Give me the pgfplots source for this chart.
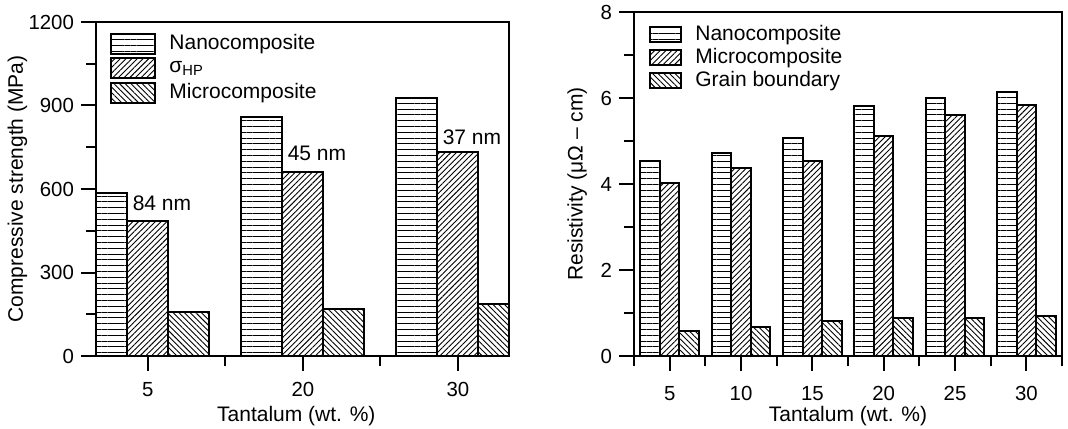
\documentclass[border=0pt]{standalone}
\usepackage{pgfplots}
\pgfplotsset{compat=1.18}
\usetikzlibrary{patterns.meta}
\usepackage{fontspec}
\setmainfont{Liberation Sans}

\tikzset{
  hlines/.style={draw=black, line width=1pt, pattern={Lines[angle=0,distance=2.9pt,line width=0.45pt]}},
  nelines/.style={draw=black, line width=1pt, pattern={Lines[angle=45,distance=2pt,line width=0.45pt]}},
  nwlines/.style={draw=black, line width=1pt, pattern={Lines[angle=-45,distance=2pt,line width=0.45pt]}},
}
\pgfplotsset{
  common/.style={
    scale only axis,
    axis line style={line width=1pt},
    tick style={line width=1pt, black},
    tick align=outside,
    xtick pos=left, ytick pos=left,
    major tick length=7.5pt, minor tick length=5pt,
    ymin=0,
    ybar=0pt,
    /pgf/number format/assume math mode=true,
    /pgf/number format/1000 sep={},
    scaled y ticks=false,
    tick label style={font=\fontsize{10.2}{12}\selectfont},
    label style={font=\fontsize{10.5}{12.6}\selectfont},
    legend style={draw=none, fill=none, anchor=north west, inner sep=0pt,
      font=\fontsize{10.5}{12.6}\selectfont},
    legend cell align=left,
  },
  lleg/.style={legend image code/.code={\draw[##1] (0pt,-5pt) rectangle (22pt,5pt); \path (26.5pt,0pt);}},
  rleg/.style={legend image code/.code={\draw[##1] (0pt,-3.75pt) rectangle (15.5pt,3.75pt); \path (20pt,0pt);}},
}

\begin{document}
\begin{tikzpicture}
\path[use as bounding box] (0,0) rectangle (534pt,214pt);

% left: compressive strength
\begin{axis}[common,
  at={(48pt,36pt)}, anchor=south west, width=206.5pt, height=167pt,
  bar width=20.5pt,
  xmin=-0.335, xmax=2.33, xtick={0,1,2}, xticklabels={5,20,30},
  minor xtick={0.5,1.5},
  ymax=1200, ytick={0,300,...,1200}, minor ytick={150,450,...,1050},
  xticklabel style={yshift=-2pt},
  xlabel={Tantalum (wt. \%)}, ylabel={Compressive strength (MPa)},
  xlabel style={at={(axis description cs:0.485,-0.18)}, anchor=center},
  ylabel style={at={(axis description cs:-0.19,0.5)}, anchor=center},
  legend style={at={(axis description cs:0.034,0.976)}, row sep=0.25pt},
]
\addplot[hlines, lleg] coordinates {(0,585) (1,860) (2,926)};
\addplot[nelines, lleg] coordinates {(0,486) (1,662) (2,734)};
\addplot[nwlines, lleg] coordinates {(0,159) (1,169) (2,186)};
\legend{Nanocomposite, σ\textsubscript{HP}, Microcomposite}
\node[anchor=west, inner sep=0pt, font=\fontsize{10.5}{12.6}\selectfont] at (axis cs:-0.1,550) {84 nm};
\node[anchor=west, inner sep=0pt, font=\fontsize{10.5}{12.6}\selectfont] at (axis cs:-0.1+1,729) {45 nm};
\node[anchor=west, inner sep=0pt, font=\fontsize{10.5}{12.6}\selectfont] at (axis cs:-0.1+2,787) {37 nm};
\end{axis}

% right: resistivity
\begin{axis}[common,
  at={(317pt,36pt)}, anchor=south west, width=214pt, height=172pt,
  bar width=9.75pt,
  xmin=2.5, xmax=32.5, xtick={5,10,...,30}, minor xtick={2.5,7.5,...,32.5},
  ymax=8, ytick={0,2,...,8}, minor ytick={1,3,5,7},
  xticklabel style={yshift=-4pt},
  xlabel={Tantalum (wt. \%)}, ylabel={Resistivity (μΩ – cm)},
  xlabel style={at={(axis description cs:0.5,-0.175)}, anchor=center},
  ylabel style={at={(axis description cs:-0.133,0.5)}, anchor=center},
  legend style={at={(axis description cs:0.035,0.974)}, row sep=-1.5pt},
]
\addplot[hlines, rleg] coordinates {(5,4.53) (10,4.71) (15,5.08) (20,5.81) (25,6.0) (30,6.13)};
\addplot[nelines, rleg] coordinates {(5,4.02) (10,4.38) (15,4.54) (20,5.12) (25,5.6) (30,5.83)};
\addplot[nwlines, rleg] coordinates {(5,0.57) (10,0.68) (15,0.81) (20,0.89) (25,0.89) (30,0.94)};
\legend{Nanocomposite, Microcomposite, Grain boundary}
\end{axis}
\end{tikzpicture}
\end{document}
